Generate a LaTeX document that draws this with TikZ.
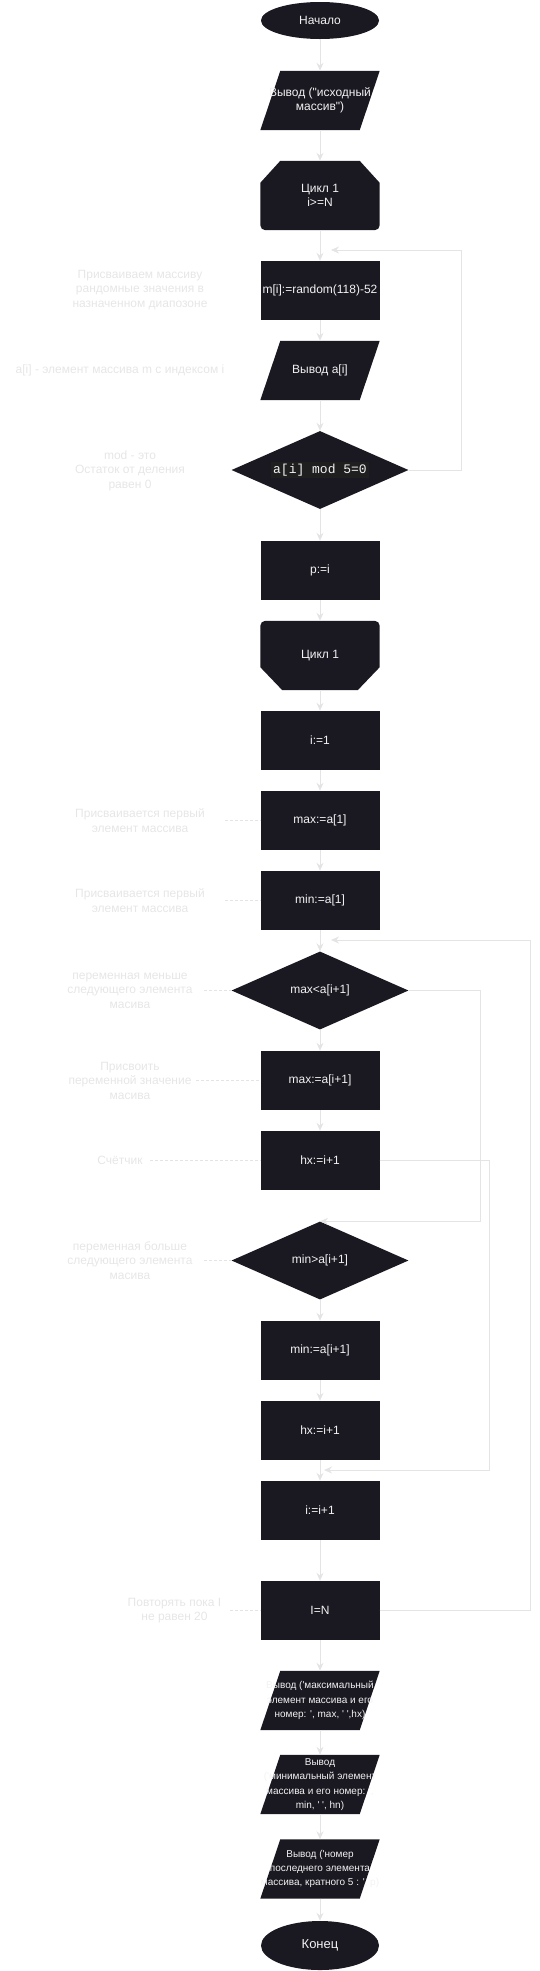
\documentclass[tikz,border=0pt]{standalone}
\usepackage{fontspec}
\setmainfont{Liberation Sans}[Ligatures=TeXOff]
\newfontfamily\codefont{Liberation Mono}
\usetikzlibrary{shapes.geometric,arrows.meta,backgrounds}

\definecolor{shapefill}{HTML}{1A1821}
\definecolor{codebg}{HTML}{1F1F1F}
\definecolor{flowline}{HTML}{E4E4E4}
\definecolor{notetext}{HTML}{E6E6E6}
\definecolor{boxtext}{HTML}{F2F2F2}

\tikzset{
  block/.style={rectangle, minimum width=119pt, minimum height=59pt, inner sep=0pt,
    text=boxtext, font=\fontsize{12}{14.5}\selectfont, align=center},
  procbox/.style={block, fill=shapefill},
  iobox/.style={block},
  smalltext/.style={font=\fontsize{10}{14.3}\selectfont},
  loopbox/.style={block, minimum height=69pt},
  termbox/.style={ellipse, fill=shapefill, minimum width=118pt, inner sep=0pt,
    text=boxtext, font=\fontsize{12}{14.5}\selectfont},
  decbox/.style={diamond, fill=shapefill, minimum width=177pt, minimum height=78pt,
    shape aspect=2.27, inner sep=0pt, text=boxtext, font=\fontsize{12}{14.5}\selectfont},
  note/.style={text=notetext, font=\fontsize{12}{14.5}\selectfont, align=center, inner sep=0pt},
  flow/.style={draw=flowline, line width=1pt, -{Stealth[length=8pt,width=7pt]}},
  notelink/.style={draw=flowline, line width=1pt, dash pattern=on 3pt off 2pt},
}

\begin{document}
\begin{tikzpicture}[x=1pt, y=-1pt]

    \useasboundingbox (0,0) rectangle (539,1971);

    % Main column of blocks
    \node[termbox, minimum height=37pt] (start) at (320,20.5) {Начало};
    \node[iobox] (out0) at (320,100.5) {Вывод ("исходный\\массив")};
    \node[loopbox] (loopA) at (320,195.5) {Цикл 1\\i>=N};
    \node[procbox] (rnd) at (320,290.5) {m[i]:=random(118)-52};
    \node[iobox] (outa) at (320,370.5) {Вывод a[i]};
    \node[decbox] (dmod) at (320,470) {\setlength{\fboxsep}{2pt}\colorbox{codebg}{\codefont\fontsize{13}{15}\selectfont a[i] mod 5=0}};
    \node[procbox] (pset) at (320,570.5) {p:=i};
    \node[loopbox] (loopB) at (320,655.5) {Цикл 1};
    \node[procbox] (iset) at (320,740.5) {i:=1};
    \node[procbox] (maxinit) at (320,820.5) {max:=a[1]};
    \node[procbox] (mininit) at (320,900.5) {min:=a[1]};
    \node[decbox] (dmax) at (320,990.5) {max<a[i+1]};
    \node[procbox] (maxset) at (320,1080.5) {max:=a[i+1]};
    \node[procbox] (hx1) at (320,1160.5) {hx:=i+1};
    \node[decbox] (dmin) at (320,1260.5) {min>a[i+1]};
    \node[procbox] (minset) at (320,1350.5) {min:=a[i+1]};
    \node[procbox] (hx2) at (320,1430.5) {hx:=i+1};
    \node[procbox] (inc) at (320,1510.5) {i:=i+1};
    \node[procbox] (ieq) at (320,1610.5) {I=N};
    \node[iobox, smalltext] (out1) at (320,1700.5) {Вывод ('максимальный\\элемент массива и его\\номер: ', max, ' ',hx)};
    \node[iobox, smalltext] (out2) at (320,1784.5) {Вывод\\('минимальный элемент\\массива и его номер: ',\\min, ' ', hn)};
    \node[iobox, smalltext] (out3) at (320,1869) {Вывод ('номер\\последнего элемента\\массива, кратного 5 : ', p)};
    \node[termbox, minimum height=49pt, font=\fontsize{13}{15}\selectfont] (stop) at (320,1945.5) {Конец};

    % Shapes behind the texts
    \begin{scope}[on background layer]
        % Input/output parallelograms
        \foreach \n in {out0,outa,out1,out2,out3}
            \fill[shapefill] (\n.south west) -- ([xshift=20pt]\n.north west) -- (\n.north east)
                -- ([xshift=-20pt]\n.south east) -- cycle;
        % Loop start: cut top corners, rounded bottom
        \fill[shapefill] ([xshift=20pt]loopA.north west) -- ([xshift=-20pt]loopA.north east)
            -- ([yshift=-22pt]loopA.north east) -- ([yshift=5pt]loopA.south east)
            arc[start angle=0, end angle=-90, radius=5pt] -- ([xshift=5pt]loopA.south west)
            arc[start angle=270, end angle=180, radius=5pt] -- ([yshift=-22pt]loopA.north west) -- cycle;
        % Loop end: rounded top, cut bottom corners
        \fill[shapefill] ([xshift=5pt]loopB.north west) -- ([xshift=-5pt]loopB.north east)
            arc[start angle=90, end angle=0, radius=5pt] -- ([yshift=23pt]loopB.south east)
            -- ([xshift=-22pt]loopB.south east) -- ([xshift=22pt]loopB.south west)
            -- ([yshift=23pt]loopB.south west) -- ([yshift=-5pt]loopB.north west)
            arc[start angle=180, end angle=90, radius=5pt] -- cycle;
    \end{scope}

    % Straight arrows down the column
    \foreach \a/\b in {start/out0, out0/loopA, loopA/rnd, rnd/outa, outa/dmod, dmod/pset,
        pset/loopB, loopB/iset, iset/maxinit, maxinit/mininit, mininit/dmax, dmax/maxset,
        maxset/hx1, dmin/minset, minset/hx2, hx2/inc, inc/ieq, ieq/out1, out1/out2,
        out2/out3, out3/stop}
        \draw[flow] (\a.south) -- (\b.north);

    % Return lines on the right
    \coordinate (backA) at (331,250);
    \coordinate (backB) at (331,940);
    \coordinate (joinInc) at (324,1470);
    \draw[flow] (dmod.east) -- ++(52.5,0) |- (backA);
    \draw[flow] (ieq.east) -- ++(151,0) |- (backB);
    \draw[flow] (dmax.east) -- ++(71.5,0) |- (dmin.north);
    \draw[flow] (hx1.east) -- ++(110,0) |- (joinInc);

    % Comments on the left
    \node[note] (n1) at (140,290) {Присваиваем массиву\\рандомные значения в\\назначенном диапозоне};
    \node[note] (n2) at (120,370.5) {a[i] - элемент массива m с индексом i};
    \node[note] (n3) at (130,470.5) {mod - это\\Остаток от деления\\равен 0};
    \node[note, minimum width=170pt] (n4) at (140,820.5) {Присваивается первый\\элемент массива};
    \node[note, minimum width=170pt] (n5) at (140,900.5) {Присваивается первый\\элемент массива};
    \node[note, minimum width=148pt] (n6) at (130,990.5) {переменная меньше\\следующего элемента\\масива};
    \node[note, minimum width=132pt] (n7) at (130,1080.5) {Присвоить\\переменной значение\\масива};
    \node[note, minimum width=60pt] (n8) at (120,1160.5) {Счётчик};
    \node[note, minimum width=148pt] (n9) at (130,1260.5) {переменная больше\\следующего элемента\\масива};
    \node[note, minimum width=111pt] (n10) at (174.5,1610.5) {Повторять пока I\\не равен 20};

    % Dashed links to the blocks
    \draw[notelink] (n4.east) -- (maxinit.west);
    \draw[notelink] (n5.east) -- (mininit.west);
    \draw[notelink] (n6.east) -- (dmax.west);
    \draw[notelink] (n7.east) -- (maxset.west);
    \draw[notelink] (n8.east) -- (hx1.west);
    \draw[notelink] (n9.east) -- (dmin.west);
    \draw[notelink] (n10.east) -- (ieq.west);

\end{tikzpicture}
\end{document}
